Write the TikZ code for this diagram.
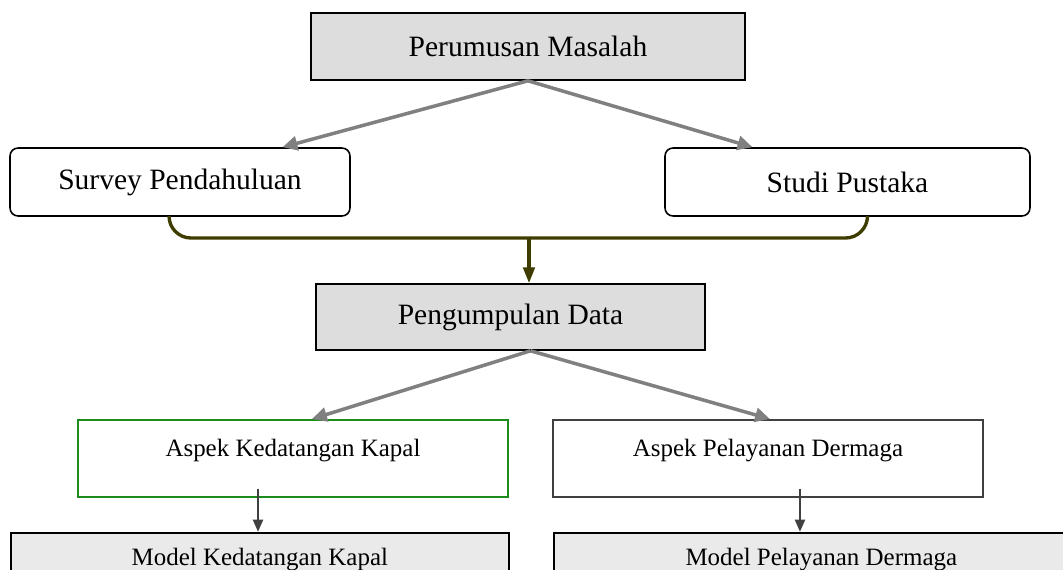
\documentclass[tikz,border=0pt]{standalone}
\usepackage{fontspec}
\setmainfont{Liberation Serif}
\usetikzlibrary{arrows.meta,calc}
\definecolor{boxgray}{HTML}{DDDDDD}
\definecolor{modelgray}{HTML}{EAEAEA}
\definecolor{linkgray}{HTML}{808080}
\definecolor{joinolive}{HTML}{3F3C00}
\definecolor{aspekgreen}{HTML}{1C8C1C}
\tikzset{
    mainbox/.style={draw=black, line width=0.9pt, fill=boxgray, inner sep=0pt, font=\fontsize{16.8}{20}\selectfont},
    roundbox/.style={draw=black, line width=0.9pt, rounded corners=0.16cm, inner sep=0pt, font=\fontsize{16.8}{20}\selectfont},
    aspekbox/.style={line width=0.9pt, inner sep=0pt, minimum width=8.6cm, text height=0.74cm, text depth=0.8cm, font=\fontsize{14.2}{17}\selectfont},
    modelbox/.style={draw=black, line width=1pt, fill=modelgray, inner sep=0pt, text height=0.66cm, text depth=0.6cm, font=\fontsize{14.2}{17}\selectfont},
    grayarrow/.style={draw=linkgray, line width=2pt, -{Triangle[length=8.5pt,width=8pt]}},
    darkarrow/.style={draw=black!75, line width=1.6pt, -{Triangle[length=7pt,width=5.5pt]}}
}
\begin{document}
\begin{tikzpicture}[x=0.02cm, y=-0.02cm]
                \clip (0,0) rectangle (1063,569);
                \node[mainbox, minimum width=8.68cm, minimum height=1.34cm] (perumusan) at (528,46.5) {Perumusan Masalah};
                \node[roundbox, minimum width=6.8cm, minimum height=1.36cm] (survey) at (180,182) {Survey Pendahuluan};
                \node[roundbox, minimum width=7.3cm, minimum height=1.36cm] (studi) at (847.5,182) {Studi Pustaka};
                \node[mainbox, minimum width=7.78cm, minimum height=1.32cm] (pengumpulan) at (510.5,317) {Pengumpulan Data};
                \node[aspekbox, draw=aspekgreen, anchor=north] (aspekkapal) at (293,419) {Aspek Kedatangan Kapal};
                \node[aspekbox, draw=black!75, anchor=north] (aspekdermaga) at (768,419) {Aspek Pelayanan Dermaga};
                \node[modelbox, minimum width=9.96cm, anchor=north west] (modelkapal) at (10,532) {Model Kedatangan Kapal};
                \node[modelbox, minimum width=10.7cm, anchor=north west] (modeldermaga) at (553,532) {Model Pelayanan Dermaga};
                \coordinate (join) at (529,238);
                \draw[grayarrow] (perumusan.south) -- ([xshift=2.05cm]survey.north);
                \draw[grayarrow] (perumusan.south) -- ([xshift=-1.9cm]studi.north);
                \draw[draw=joinolive, line width=1.9pt, rounded corners=0.44cm] ([xshift=-0.22cm]survey.south) |- (join) -| ([xshift=0.4cm]studi.south);
                \draw[draw=joinolive, line width=1.9pt, -{Triangle[length=9pt,width=6.5pt]}] (join) -- (join |- pengumpulan.north);
                \draw[grayarrow] ([xshift=0.4cm]pengumpulan.south) -- ([xshift=0.38cm]aspekkapal.north);
                \draw[grayarrow] ([xshift=0.4cm]pengumpulan.south) -- ([xshift=0.04cm]aspekdermaga.north);
                \draw[darkarrow] ([shift={(-0.7cm,0.18cm)}]aspekkapal.south) -- ([xshift=-0.7cm]aspekkapal.south |- modelkapal.north);
                \draw[darkarrow] ([shift={(0.64cm,0.18cm)}]aspekdermaga.south) -- ([xshift=0.64cm]aspekdermaga.south |- modeldermaga.north);
\end{tikzpicture}
\end{document}
